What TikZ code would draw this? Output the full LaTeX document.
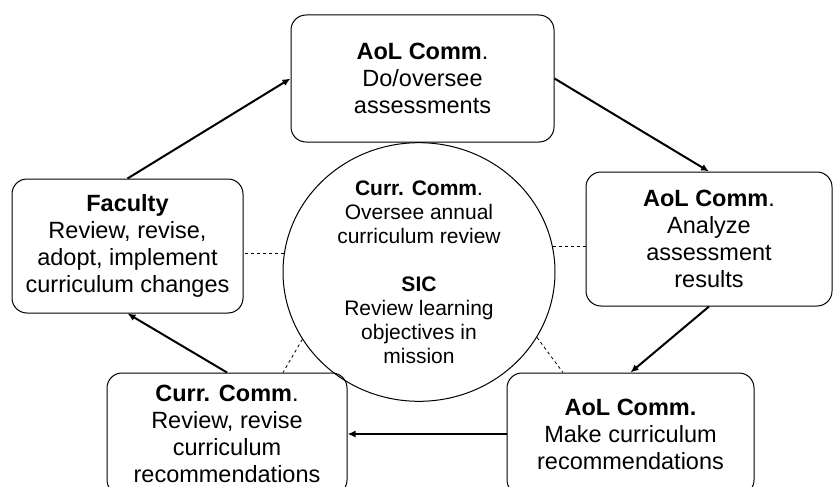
\documentclass[tikz,border=0pt]{standalone}
\usepackage{fontspec}
\setmainfont{Liberation Sans}
\usetikzlibrary{arrows.meta,calc,shapes.geometric}

\tikzset{
  stagebox/.style={draw=black, line width=1pt, rounded corners=15pt, align=center,
    inner sep=0pt, font=\fontsize{23.5}{27}\selectfont},
  centerell/.style={draw=black, line width=1pt, ellipse, inner sep=0pt, align=center,
    minimum width=272pt, minimum height=232pt, font=\fontsize{21}{24}\selectfont},
  flow/.style={line width=2pt, -{Latex[length=8pt,width=7pt]}},
  link/.style={line width=0.8pt, dash pattern=on 3pt off 3pt}
}

\begin{document}
\begin{tikzpicture}[x=1pt, y=-1pt]
  \fill[white] (0,0) rectangle (833,487);
  \useasboundingbox (0,0) rectangle (833,487);
  \clip (0,0) rectangle (833,487);

  % cycle stages
  \node[stagebox, minimum width=263pt, minimum height=127pt] (top) at (422.5,78.5)
    {\textbf{AoL Comm}.\\Do/oversee\\assessments};
  \node[stagebox, minimum width=246pt, minimum height=134pt] (right) at (709,239)
    {\textbf{AoL Comm}.\\Analyze\\assessment\\results};
  \node[stagebox, minimum width=247pt, minimum height=122pt] (br) at (630.5,434)
    {\textbf{AoL Comm.}\\Make curriculum\\recommendations};
  \node[stagebox, minimum width=240pt, minimum height=122pt] (bl) at (227,434)
    {\textbf{Curr. Comm}.\\Review, revise\\curriculum\\recommendations};
  \node[stagebox, minimum width=231pt, minimum height=134pt] (fac) at (127.5,246)
    {\textbf{Faculty}\\Review, revise,\\adopt, implement\\curriculum changes};

  % central oversight
  \node[centerell] (ell) at (419,272)
    {\textbf{Curr. Comm}.\\Oversee annual\\curriculum review\\[24pt]\textbf{SIC}\\Review learning\\objectives in\\mission};

  % cycle arrows
  \draw[flow] (fac.north) -- (top.west);
  \draw[flow] (top.east) -- (right.north);
  \draw[flow] (right.south) -- (br.north);
  \draw[flow] (br.west) -- (bl.east);
  \draw[flow] (bl.north) -- (fac.south);

  % dashed links to the centre
  \draw[link] (ell.north |- top.south) -- (ell.north);
  \draw[link] (ell.172) -- (ell.172 -| fac.east);
  \draw[link] (ell.11) -- (ell.11 -| right.west);
  \draw[link] (ell.210) -- ([xshift=56pt]bl.north);
  \draw[link] (ell.331) -- ([xshift=-67.5pt]br.north);
\end{tikzpicture}
\end{document}
